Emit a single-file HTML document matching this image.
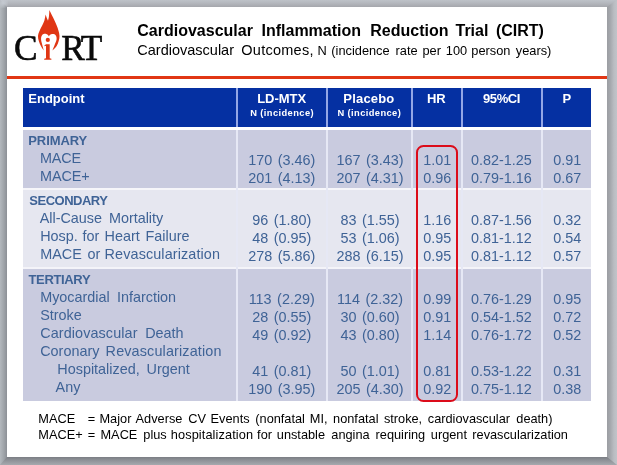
<!DOCTYPE html>
<html><head><meta charset="utf-8">
<style>
html,body{margin:0;padding:0;}
body{width:617px;height:465px;overflow:hidden;position:relative;background:#c3c8ce;font-family:"Liberation Sans",sans-serif;}
.abs{position:absolute;}
.t{position:absolute;white-space:pre;line-height:1;}
#slide{left:7px;top:7px;width:600px;height:450px;background:#fff;}
.lab{color:#3f6396;}
.sec{color:#3f6396;font-weight:bold;}
.num{color:#3f6396;}
.hd{color:#fff;font-weight:bold;}
.ft{color:#000;}
</style></head><body>
<div class="abs" id="root" style="left:0;top:0;width:617px;height:465px;will-change:transform;">
<div class="abs" style="left:0;top:0;width:617px;height:7px;background:linear-gradient(to bottom,#bec2c8,#b4b7bd 45%,#a5a7ac);"></div>
<div class="abs" style="left:0;top:457px;width:617px;height:8px;background:linear-gradient(to bottom,#7b7e84,#8e9197 40%,#a6a9ae);"></div>
<div class="abs" style="left:0;top:0;width:7px;height:465px;background:linear-gradient(to right,#b3b8bd,#a1a6ab 50%,#8c9096);clip-path:polygon(0 0,7px 7px,7px 457px,0 465px);"></div>
<div class="abs" style="left:607px;top:0;width:10px;height:465px;background:linear-gradient(to right,#9b9da2,#a6a9ae 35%,#babdc2 70%,#c1c4c9);clip-path:polygon(10px 0,10px 465px,0 457px,0 7px);"></div>
<div class="abs" style="left:0;top:0;width:8px;height:8px;background:radial-gradient(circle at 3px 3px,#c6cbd2,rgba(198,203,210,0) 6px);"></div>
<div class="abs" id="slide"></div>
<div class="abs" style="left:7px;top:76px;width:600px;height:3px;background:#e13614;"></div>
<div class="t " style="top:23.06px;font-size:16px;left:137.3px;font-weight:bold;color:#000;">Cardiovascular</div>
<div class="t " style="top:23.06px;font-size:16px;left:261.5px;font-weight:bold;color:#000;">Inflammation</div>
<div class="t " style="top:23.06px;font-size:16px;left:370.3px;font-weight:bold;color:#000;">Reduction</div>
<div class="t " style="top:23.06px;font-size:16px;left:455.5px;font-weight:bold;color:#000;">Trial</div>
<div class="t " style="top:23.06px;font-size:16px;left:495.9px;font-weight:bold;color:#000;">(CIRT)</div>
<div class="t " style="top:43.13px;font-size:14.5px;left:137.3px;color:#000;">Cardiovascular</div>
<div class="t " style="top:43.13px;font-size:14.5px;left:241.3px;color:#000;letter-spacing:0.25px;">Outcomes,</div>
<div class="t " style="top:44.56px;font-size:12.8px;left:317.6px;color:#000;">N</div>
<div class="t " style="top:44.56px;font-size:12.8px;left:331.3px;color:#000;">(incidence</div>
<div class="t " style="top:44.56px;font-size:12.8px;left:395.5px;color:#000;">rate</div>
<div class="t " style="top:44.56px;font-size:12.8px;left:422.5px;color:#000;">per</div>
<div class="t " style="top:44.56px;font-size:12.8px;left:445.8px;color:#000;">100</div>
<div class="t " style="top:44.56px;font-size:12.8px;left:471.3px;color:#000;">person</div>
<div class="t " style="top:44.56px;font-size:12.8px;left:515.8px;color:#000;">years)</div>
<div class="t lg" style="left:13.9px;top:30.84px;font-size:35.3px;font-family:'Liberation Serif',serif;color:#0a0a0a;-webkit-text-stroke:0.6px #0a0a0a;">C</div>
<div class="t lg" style="left:61.199999999999996px;top:30.84px;font-size:35.3px;font-family:'Liberation Serif',serif;color:#0a0a0a;-webkit-text-stroke:0.6px #0a0a0a;">R</div>
<div class="t lg" style="left:80.7px;top:30.84px;font-size:35.3px;font-family:'Liberation Serif',serif;color:#0a0a0a;-webkit-text-stroke:0.6px #0a0a0a;">T</div>
<svg class="abs" style="left:0;top:0;" width="120" height="75" viewBox="0 0 120 75">
<path fill="#e03614" d="M49.4,10.0 C49.82,10.88 51.05,13.55 51.90,15.30 C52.75,17.05 53.70,18.78 54.50,20.50 C55.30,22.22 56.03,23.88 56.70,25.60 C57.37,27.32 58.03,29.07 58.50,30.80 C58.97,32.53 59.47,34.28 59.50,36.00 C59.53,37.72 59.20,39.38 58.70,41.10 C58.20,42.82 57.55,44.72 56.50,46.30 C55.45,47.88 53.08,49.88 52.40,50.60 C52.77,49.67 53.92,46.80 54.60,45.00 C55.28,43.20 56.23,41.27 56.50,39.80 C56.77,38.33 56.53,37.13 56.20,36.20 C55.87,35.27 55.22,34.57 54.50,34.20 C53.78,33.83 52.72,33.83 51.90,34.00 C51.08,34.17 50.10,34.80 49.60,35.20 C49.10,35.60 49.02,36.20 48.90,36.40 C48.78,36.20 48.63,35.60 48.20,35.20 C47.77,34.80 47.07,34.18 46.30,34.00 C45.53,33.82 44.40,33.73 43.60,34.10 C42.80,34.47 41.92,35.25 41.50,36.20 C41.08,37.15 40.97,38.33 41.10,39.80 C41.23,41.27 41.85,43.20 42.30,45.00 C42.75,46.80 43.55,49.67 43.80,50.60 C43.33,49.88 41.83,47.88 41.00,46.30 C40.17,44.72 39.30,42.82 38.80,41.10 C38.30,39.38 37.87,37.72 38.00,36.00 C38.13,34.28 38.90,32.53 39.60,30.80 C40.30,29.07 41.40,27.32 42.20,25.60 C43.00,23.88 43.83,22.33 44.40,20.50 C44.97,18.67 45.40,15.58 45.60,14.60 C45.80,15.17 46.40,16.97 46.80,18.00 C47.20,19.03 47.80,20.33 48.00,20.80 C48.17,20.00 48.77,17.80 49.00,16.00 C49.23,14.20 49.33,11.00 49.40,10.00 Z"/>
<circle cx="47.8" cy="39.9" r="2.1" fill="#e03614"/>
<path fill="#e03614" d="M46,44.2 L49.7,44.2 L49.7,58.2 L51.4,58.8 L51.4,59.7 L44.2,59.7 L44.2,58.8 L46,58.2 L46,45.8 L44.4,46.2 L44.4,45.4 Z"/>
</svg>
<div class="abs" style="left:22.5px;top:87.5px;width:568.6px;height:39.6px;background:#0530a2;"></div>
<div class="abs" style="left:22.5px;top:130px;width:568.6px;height:58px;background:#c9cbdf;"></div>
<div class="abs" style="left:22.5px;top:188px;width:568.6px;height:2px;background:#f6f6fa;"></div>
<div class="abs" style="left:22.5px;top:190px;width:568.6px;height:77px;background:#e6e7f0;"></div>
<div class="abs" style="left:22.5px;top:267px;width:568.6px;height:2.3px;background:#f4f4f9;"></div>
<div class="abs" style="left:22.5px;top:269.3px;width:568.6px;height:131.9px;background:#c9cbdf;"></div>
<div class="abs" style="left:236.2px;top:87.5px;width:2px;height:39.6px;background:#93a6e6;"></div>
<div class="abs" style="left:236.2px;top:130px;width:2px;height:271.2px;background:#e6e8f5;"></div>
<div class="abs" style="left:326.2px;top:87.5px;width:2px;height:39.6px;background:#93a6e6;"></div>
<div class="abs" style="left:326.2px;top:130px;width:2px;height:271.2px;background:#e6e8f5;"></div>
<div class="abs" style="left:410.6px;top:87.5px;width:2px;height:39.6px;background:#93a6e6;"></div>
<div class="abs" style="left:410.6px;top:130px;width:2px;height:271.2px;background:#e6e8f5;"></div>
<div class="abs" style="left:461px;top:87.5px;width:2px;height:39.6px;background:#93a6e6;"></div>
<div class="abs" style="left:461px;top:130px;width:2px;height:271.2px;background:#e6e8f5;"></div>
<div class="abs" style="left:541px;top:87.5px;width:2px;height:39.6px;background:#93a6e6;"></div>
<div class="abs" style="left:541px;top:130px;width:2px;height:271.2px;background:#e6e8f5;"></div>
<div class="t hd" style="top:91.50px;font-size:13px;left:28.3px;">Endpoint</div>
<div class="t hd" style="top:91.50px;font-size:13px;left:131.7px;width:300px;text-align:center;letter-spacing:0px;">LD-MTX</div>
<div class="t hd" style="top:91.50px;font-size:13px;left:218.89999999999998px;width:300px;text-align:center;letter-spacing:0.18px;">Placebo</div>
<div class="t hd" style="top:91.50px;font-size:13px;left:286.3px;width:300px;text-align:center;letter-spacing:-0.1px;">HR</div>
<div class="t hd" style="top:91.50px;font-size:13px;left:351.5px;width:300px;text-align:center;letter-spacing:-0.4px;">95%CI</div>
<div class="t hd" style="top:91.50px;font-size:13px;left:416.75px;width:300px;text-align:center;letter-spacing:0px;">P</div>
<div class="t hd" style="top:108.73px;font-size:9.3px;left:132.09999999999997px;width:300px;text-align:center;letter-spacing:0.42px;">N (incidence)</div>
<div class="t hd" style="top:108.73px;font-size:9.3px;left:219.29999999999995px;width:300px;text-align:center;letter-spacing:0.42px;">N (incidence)</div>
<div class="t sec" style="top:133.60px;font-size:13px;left:28.3px;letter-spacing:-0.1px;">PRIMARY</div>
<div class="t lab" style="top:150.81px;font-size:14.4px;left:40.0px;letter-spacing:-0.2px;">MACE</div>
<div class="t lab" style="top:168.71px;font-size:14.4px;left:40.0px;letter-spacing:-0.1px;">MACE+</div>
<div class="t sec" style="top:193.60px;font-size:13px;left:29.3px;letter-spacing:-0.5px;">SECONDARY</div>
<div class="t lab" style="top:210.91px;font-size:14.4px;left:39.7px;">All-Cause</div>
<div class="t lab" style="top:210.91px;font-size:14.4px;left:108.9px;">Mortality</div>
<div class="t lab" style="top:228.81px;font-size:14.4px;left:40.2px;">Hosp.</div>
<div class="t lab" style="top:228.81px;font-size:14.4px;left:82.6px;">for</div>
<div class="t lab" style="top:228.81px;font-size:14.4px;left:104.6px;">Heart</div>
<div class="t lab" style="top:228.81px;font-size:14.4px;left:145.5px;">Failure</div>
<div class="t lab" style="top:246.71px;font-size:14.4px;left:40.2px;">MACE</div>
<div class="t lab" style="top:246.71px;font-size:14.4px;left:87.6px;">or</div>
<div class="t lab" style="top:246.71px;font-size:14.4px;left:104.6px;letter-spacing:0.11px;">Revascularization</div>
<div class="t sec" style="top:272.60px;font-size:13px;left:28.5px;letter-spacing:-0.35px;">TERTIARY</div>
<div class="t lab" style="top:289.61px;font-size:14.4px;left:40.2px;">Myocardial</div>
<div class="t lab" style="top:289.61px;font-size:14.4px;left:116.9px;">Infarction</div>
<div class="t lab" style="top:307.91px;font-size:14.4px;left:40.2px;">Stroke</div>
<div class="t lab" style="top:325.91px;font-size:14.4px;left:40.2px;letter-spacing:0.1px;">Cardiovascular</div>
<div class="t lab" style="top:325.91px;font-size:14.4px;left:145.2px;">Death</div>
<div class="t lab" style="top:343.91px;font-size:14.4px;left:40.2px;">Coronary</div>
<div class="t lab" style="top:343.91px;font-size:14.4px;left:105.6px;letter-spacing:0.14px;">Revascularization</div>
<div class="t lab" style="top:361.91px;font-size:14.4px;left:57.3px;">Hospitalized,</div>
<div class="t lab" style="top:361.91px;font-size:14.4px;left:146.5px;">Urgent</div>
<div class="t lab" style="top:379.91px;font-size:14.4px;left:55.6px;">Any</div>
<div class="t num" style="top:153.21px;font-size:14.4px;left:131.7px;width:300px;text-align:center;word-spacing:1.5px;">170 (3.46)</div>
<div class="t num" style="top:153.21px;font-size:14.4px;left:220.0px;width:300px;text-align:center;word-spacing:1.5px;">167 (3.43)</div>
<div class="t num" style="top:153.21px;font-size:14.4px;left:287.3px;width:300px;text-align:center;word-spacing:1.5px;">1.01</div>
<div class="t num" style="top:153.21px;font-size:14.4px;left:351.3px;width:300px;text-align:center;word-spacing:1.5px;">0.82-1.25</div>
<div class="t num" style="top:153.21px;font-size:14.4px;left:417.25px;width:300px;text-align:center;word-spacing:1.5px;">0.91</div>
<div class="t num" style="top:171.21px;font-size:14.4px;left:131.7px;width:300px;text-align:center;word-spacing:1.5px;">201 (4.13)</div>
<div class="t num" style="top:171.21px;font-size:14.4px;left:220.0px;width:300px;text-align:center;word-spacing:1.5px;">207 (4.31)</div>
<div class="t num" style="top:171.21px;font-size:14.4px;left:287.3px;width:300px;text-align:center;word-spacing:1.5px;">0.96</div>
<div class="t num" style="top:171.21px;font-size:14.4px;left:351.3px;width:300px;text-align:center;word-spacing:1.5px;">0.79-1.16</div>
<div class="t num" style="top:171.21px;font-size:14.4px;left:417.25px;width:300px;text-align:center;word-spacing:1.5px;">0.67</div>
<div class="t num" style="top:213.11px;font-size:14.4px;left:131.7px;width:300px;text-align:center;word-spacing:1.5px;">96 (1.80)</div>
<div class="t num" style="top:213.11px;font-size:14.4px;left:220.0px;width:300px;text-align:center;word-spacing:1.5px;">83 (1.55)</div>
<div class="t num" style="top:213.11px;font-size:14.4px;left:287.3px;width:300px;text-align:center;word-spacing:1.5px;">1.16</div>
<div class="t num" style="top:213.11px;font-size:14.4px;left:351.3px;width:300px;text-align:center;word-spacing:1.5px;">0.87-1.56</div>
<div class="t num" style="top:213.11px;font-size:14.4px;left:417.25px;width:300px;text-align:center;word-spacing:1.5px;">0.32</div>
<div class="t num" style="top:231.01px;font-size:14.4px;left:131.7px;width:300px;text-align:center;word-spacing:1.5px;">48 (0.95)</div>
<div class="t num" style="top:231.01px;font-size:14.4px;left:220.0px;width:300px;text-align:center;word-spacing:1.5px;">53 (1.06)</div>
<div class="t num" style="top:231.01px;font-size:14.4px;left:287.3px;width:300px;text-align:center;word-spacing:1.5px;">0.95</div>
<div class="t num" style="top:231.01px;font-size:14.4px;left:351.3px;width:300px;text-align:center;word-spacing:1.5px;">0.81-1.12</div>
<div class="t num" style="top:231.01px;font-size:14.4px;left:417.25px;width:300px;text-align:center;word-spacing:1.5px;">0.54</div>
<div class="t num" style="top:248.91px;font-size:14.4px;left:131.7px;width:300px;text-align:center;word-spacing:1.5px;">278 (5.86)</div>
<div class="t num" style="top:248.91px;font-size:14.4px;left:220.0px;width:300px;text-align:center;word-spacing:1.5px;">288 (6.15)</div>
<div class="t num" style="top:248.91px;font-size:14.4px;left:287.3px;width:300px;text-align:center;word-spacing:1.5px;">0.95</div>
<div class="t num" style="top:248.91px;font-size:14.4px;left:351.3px;width:300px;text-align:center;word-spacing:1.5px;">0.81-1.12</div>
<div class="t num" style="top:248.91px;font-size:14.4px;left:417.25px;width:300px;text-align:center;word-spacing:1.5px;">0.57</div>
<div class="t num" style="top:292.11px;font-size:14.4px;left:131.7px;width:300px;text-align:center;word-spacing:1.5px;">113 (2.29)</div>
<div class="t num" style="top:292.11px;font-size:14.4px;left:220.0px;width:300px;text-align:center;word-spacing:1.5px;">114 (2.32)</div>
<div class="t num" style="top:292.11px;font-size:14.4px;left:287.3px;width:300px;text-align:center;word-spacing:1.5px;">0.99</div>
<div class="t num" style="top:292.11px;font-size:14.4px;left:351.3px;width:300px;text-align:center;word-spacing:1.5px;">0.76-1.29</div>
<div class="t num" style="top:292.11px;font-size:14.4px;left:417.25px;width:300px;text-align:center;word-spacing:1.5px;">0.95</div>
<div class="t num" style="top:310.11px;font-size:14.4px;left:131.7px;width:300px;text-align:center;word-spacing:1.5px;">28 (0.55)</div>
<div class="t num" style="top:310.11px;font-size:14.4px;left:220.0px;width:300px;text-align:center;word-spacing:1.5px;">30 (0.60)</div>
<div class="t num" style="top:310.11px;font-size:14.4px;left:287.3px;width:300px;text-align:center;word-spacing:1.5px;">0.91</div>
<div class="t num" style="top:310.11px;font-size:14.4px;left:351.3px;width:300px;text-align:center;word-spacing:1.5px;">0.54-1.52</div>
<div class="t num" style="top:310.11px;font-size:14.4px;left:417.25px;width:300px;text-align:center;word-spacing:1.5px;">0.72</div>
<div class="t num" style="top:328.01px;font-size:14.4px;left:131.7px;width:300px;text-align:center;word-spacing:1.5px;">49 (0.92)</div>
<div class="t num" style="top:328.01px;font-size:14.4px;left:220.0px;width:300px;text-align:center;word-spacing:1.5px;">43 (0.80)</div>
<div class="t num" style="top:328.01px;font-size:14.4px;left:287.3px;width:300px;text-align:center;word-spacing:1.5px;">1.14</div>
<div class="t num" style="top:328.01px;font-size:14.4px;left:351.3px;width:300px;text-align:center;word-spacing:1.5px;">0.76-1.72</div>
<div class="t num" style="top:328.01px;font-size:14.4px;left:417.25px;width:300px;text-align:center;word-spacing:1.5px;">0.52</div>
<div class="t num" style="top:364.21px;font-size:14.4px;left:131.7px;width:300px;text-align:center;word-spacing:1.5px;">41 (0.81)</div>
<div class="t num" style="top:364.21px;font-size:14.4px;left:220.0px;width:300px;text-align:center;word-spacing:1.5px;">50 (1.01)</div>
<div class="t num" style="top:364.21px;font-size:14.4px;left:287.3px;width:300px;text-align:center;word-spacing:1.5px;">0.81</div>
<div class="t num" style="top:364.21px;font-size:14.4px;left:351.3px;width:300px;text-align:center;word-spacing:1.5px;">0.53-1.22</div>
<div class="t num" style="top:364.21px;font-size:14.4px;left:417.25px;width:300px;text-align:center;word-spacing:1.5px;">0.31</div>
<div class="t num" style="top:382.21px;font-size:14.4px;left:131.7px;width:300px;text-align:center;word-spacing:1.5px;">190 (3.95)</div>
<div class="t num" style="top:382.21px;font-size:14.4px;left:220.0px;width:300px;text-align:center;word-spacing:1.5px;">205 (4.30)</div>
<div class="t num" style="top:382.21px;font-size:14.4px;left:287.3px;width:300px;text-align:center;word-spacing:1.5px;">0.92</div>
<div class="t num" style="top:382.21px;font-size:14.4px;left:351.3px;width:300px;text-align:center;word-spacing:1.5px;">0.75-1.12</div>
<div class="t num" style="top:382.21px;font-size:14.4px;left:417.25px;width:300px;text-align:center;word-spacing:1.5px;">0.38</div>
<div class="abs" style="left:415.9px;top:145.4px;width:42.3px;height:256.3px;border:2.3px solid #dc0c1a;border-radius:7.5px;box-sizing:border-box;"></div>
<div class="t ft" style="top:412.91px;font-size:12.75px;left:38.3px;">MACE</div>
<div class="t ft" style="top:412.91px;font-size:12.75px;left:87.8px;">=</div>
<div class="t ft" style="top:412.91px;font-size:12.75px;left:99.5px;">Major</div>
<div class="t ft" style="top:412.91px;font-size:12.75px;left:135.6px;">Adverse</div>
<div class="t ft" style="top:412.91px;font-size:12.75px;left:188.3px;">CV</div>
<div class="t ft" style="top:412.91px;font-size:12.75px;left:210.6px;">Events</div>
<div class="t ft" style="top:412.91px;font-size:12.75px;left:255.3px;">(nonfatal</div>
<div class="t ft" style="top:412.91px;font-size:12.75px;left:309.8px;">MI,</div>
<div class="t ft" style="top:412.91px;font-size:12.75px;left:333.1px;">nonfatal</div>
<div class="t ft" style="top:412.91px;font-size:12.75px;left:383.9px;">stroke,</div>
<div class="t ft" style="top:412.91px;font-size:12.75px;left:427.8px;">cardiovascular</div>
<div class="t ft" style="top:412.91px;font-size:12.75px;left:516.3px;">death)</div>
<div class="t ft" style="top:428.91px;font-size:12.75px;left:38.3px;">MACE+</div>
<div class="t ft" style="top:428.91px;font-size:12.75px;left:87.8px;">=</div>
<div class="t ft" style="top:428.91px;font-size:12.75px;left:100.5px;">MACE</div>
<div class="t ft" style="top:428.91px;font-size:12.75px;left:143.3px;">plus</div>
<div class="t ft" style="top:428.91px;font-size:12.75px;left:170.8px;letter-spacing:0.1px;">hospitalization</div>
<div class="t ft" style="top:428.91px;font-size:12.75px;left:257.1px;">for</div>
<div class="t ft" style="top:428.91px;font-size:12.75px;left:276.8px;">unstable</div>
<div class="t ft" style="top:428.91px;font-size:12.75px;left:331.3px;">angina</div>
<div class="t ft" style="top:428.91px;font-size:12.75px;left:375.6px;">requiring</div>
<div class="t ft" style="top:428.91px;font-size:12.75px;left:430.8px;">urgent</div>
<div class="t ft" style="top:428.91px;font-size:12.75px;left:472.3px;">revascularization</div>
</div></body></html>
